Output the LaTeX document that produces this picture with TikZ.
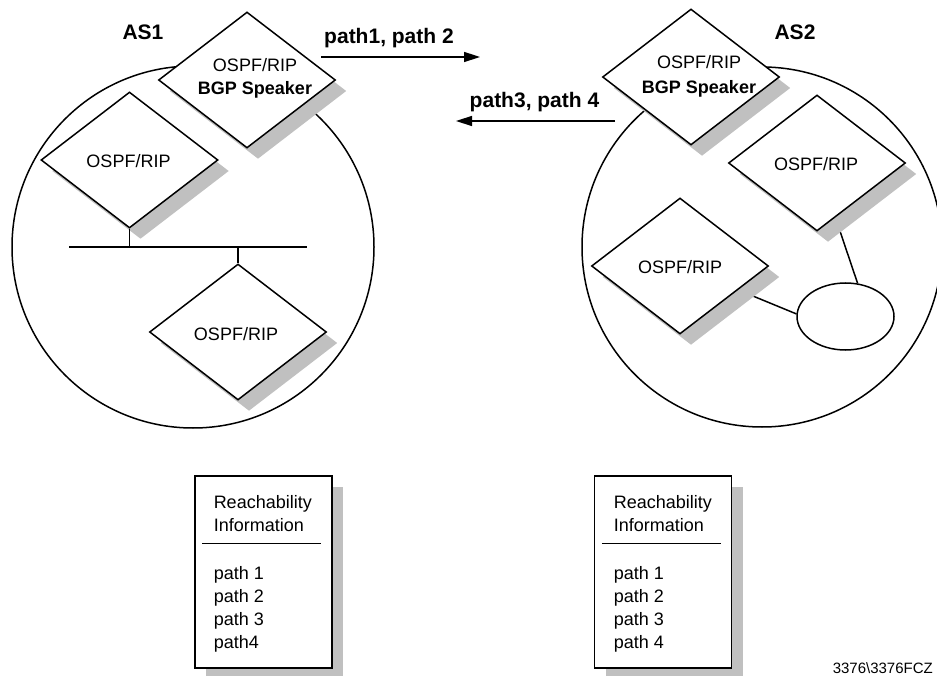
\documentclass[tikz,border=0pt]{standalone}
\usepackage{fontspec}
\setmainfont{Liberation Sans}
\usetikzlibrary{shapes.geometric,shadows,arrows.meta,backgrounds,calc}
\definecolor{shadowgray}{HTML}{C0C0C0}
\begin{document}
\begin{tikzpicture}[x=1pt,y=-1pt,
  line width=1.5pt,
  router/.style={diamond, draw, fill=white, minimum width=177pt, minimum height=136pt, inner sep=0pt,
     general shadow={fill=shadowgray, shadow xshift=11pt, shadow yshift=-11pt}},
  asarea/.style={circle, draw, minimum size=362pt, inner sep=0pt},
  infobox/.style={rectangle, draw, fill=white, minimum width=137pt, minimum height=192pt, inner sep=0pt,
     general shadow={fill=shadowgray, shadow xshift=11pt, shadow yshift=-11pt}},
  segment/.style={draw, ellipse, fill=white, minimum width=97pt, minimum height=67pt, inner sep=0pt},
  body/.style={font=\fontsize{18}{22}\selectfont, inner sep=0pt, anchor=base},
  bodyl/.style={body, anchor=base west},
  bodyb/.style={font=\fontsize{18}{22}\selectfont\bfseries, inner sep=0pt, anchor=base},
  biglbl/.style={font=\fontsize{21}{25}\selectfont\bfseries, inner sep=0pt, anchor=base},
  smalllbl/.style={font=\fontsize{15}{18}\selectfont, inner sep=0pt, anchor=base west},
  msg/.style={-{Triangle[length=16pt,width=10pt]}},
  link/.style={draw, line width=1.5pt}
]
\clip (0,0) rectangle (937,676);

% AS areas
\node[asarea] (as1) at (193,247) {};
\node[asarea, minimum size=360pt] (as2) at (762,247) {};

% AS1 routers
\node[router] (bgp1) at (247,80) {};
\node[router] (r1) at (129.5,160) {};
\node[router] (r3) at (238,332) {};

% AS2 routers
\node[router] (bgp2) at (691,77) {};
\node[router] (r5) at (817,163) {};
\node[router] (r6) at (680,266) {};
\node[segment] (seg) at (845.5,316.5) {};

% connectors behind routers
\begin{scope}[on background layer]
  \draw[link] (seg.70) -- (r5.center);
  \draw[link] (seg.177) -- (r6.center);
\end{scope}

% LAN bus in AS1
\coordinate (busL) at (69,247);
\coordinate (busR) at (307,247);
\draw[link] (busL) -- (busR);
\draw[link] (r1.south) -- (r1.south |- busL);
\draw[link] (r3.north) -- (r3.north |- busL);

% labels in routers
\node[body] (t1a) at (255,71.7) {OSPF/RIP};
\node[bodyb] (t1b) at (255,95) {BGP Speaker};
\node[body] (t2a) at (699,68.3) {OSPF/RIP};
\node[bodyb] (t2b) at (699,93.3) {BGP Speaker};
\node[body] (tr1) at (128.5,168) {OSPF/RIP};
\node[body] (tr3) at (236,340.7) {OSPF/RIP};
\node[body] (tr5) at (816,170.7) {OSPF/RIP};
\node[body] (tr6) at (680,273.3) {OSPF/RIP};

% AS labels
\node[biglbl] (as1lbl) at (143,40) {AS1};
\node[biglbl] (as2lbl) at (795,40) {AS2};

% path advertisements
\coordinate (m1s) at (321,57);
\coordinate (m1e) at (480,57);
\draw[msg] (m1s) -- (m1e);
\node[biglbl] (p12) at (389,43.3) {path1, path 2};
\coordinate (m2s) at (615,121);
\coordinate (m2e) at (456,121);
\draw[msg] (m2s) -- (m2e);
\node[biglbl] (p34) at (534.5,107.3) {path3, path 4};

% reachability boxes
\node[infobox] (box1) at (263.5,572) {};
\node[infobox] (box2) at (663,572) {};
\path (box1.north west) ++(8,68) coordinate (s1a) ++(119,0) coordinate (s1b);
\draw[link] (s1a) -- (s1b);
\path (box2.north west) ++(8,68) coordinate (s2a) ++(119,0) coordinate (s2b);
\draw[link] (s2a) -- (s2b);

\node[bodyl] (b1l1) at (213,508) {Reachability};
\node[bodyl] (b1l2) at (213,531) {Information};
\node[bodyl] (b1l3) at (213,579) {path 1};
\node[bodyl] (b1l4) at (213,602) {path 2};
\node[bodyl] (b1l5) at (213,625) {path 3};
\node[bodyl] (b1l6) at (213,648) {path4};

\node[bodyl] (b2l1) at (613,508) {Reachability};
\node[bodyl] (b2l2) at (613,531) {Information};
\node[bodyl] (b2l3) at (613,579) {path 1};
\node[bodyl] (b2l4) at (613,602) {path 2};
\node[bodyl] (b2l5) at (613,625) {path 3};
\node[bodyl] (b2l6) at (613,648) {path 4};

\node[smalllbl] (fig) at (832,673) {3376\textbackslash 3376FCZ};
\end{tikzpicture}
\end{document}
